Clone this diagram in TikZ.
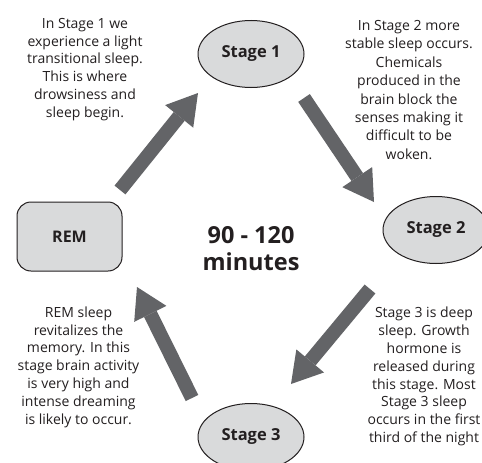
\documentclass[tikz,border=0pt]{standalone}
\usepackage{fontspec}
\setmainfont{Open Sans}
\usetikzlibrary{shapes.geometric,arrows.meta}
\definecolor{shapegray}{HTML}{D9DADB}
\definecolor{arrowgray}{HTML}{636467}
\definecolor{inkblack}{HTML}{231F20}
\begin{document}
\begin{tikzpicture}[x=1pt,y=-1pt,
  stagebox/.style={ellipse,draw=inkblack,line width=1pt,fill=shapegray,
    minimum width=106pt,minimum height=67pt,inner sep=0pt,
    font=\fontsize{16.5}{19}\selectfont\bfseries,text=inkblack},
  rembox/.style={rectangle,rounded corners=14pt,draw=inkblack,line width=1pt,
    fill=shapegray,minimum width=105pt,minimum height=69pt,inner sep=0pt,
    font=\fontsize{16}{19}\selectfont\bfseries,text=inkblack},
  note/.style={align=center,text=inkblack,inner sep=0pt,
    font=\fontsize{14}{17.8}\selectfont},
  bigtext/.style={align=center,text=inkblack,inner sep=0pt,
    font=\fontsize{23.5}{27}\selectfont\bfseries},
  flow/.style={line width=14pt,draw=arrowgray,
    -{Triangle[length=30pt,width=36pt,line width=0pt]}}]
\useasboundingbox (0,0) rectangle (482,463);
\clip (0,0) rectangle (482,463);
\fill[white] (0,0) rectangle (482,463);

\node[stagebox] (s1) at (251,54) {Stage 1};
\node[stagebox] (s2) at (436,230) {Stage 2};
\node[stagebox] (s3) at (251,437) {Stage 3};
\node[rembox] (rem) at (69.5,236.5) {REM};
\node[bigtext] (mid) at (251,249) {90 - 120\\minutes};

\node[note] (n1) at (85,69.5) {In Stage 1 we\\experience a light\\transitional sleep.\\This is where\\drowsiness and\\sleep begin.};
\node[note,font=\fontsize{14}{18.4}\selectfont] (n2) at (409,90) {In Stage 2 more\\stable sleep occurs.\\Chemicals\\produced in the\\brain block the\\senses making it\\difficult to be\\woken.};
\node[note] (n3) at (78.5,367) {REM sleep\\revitalizes the\\memory. In this\\stage brain activity\\is very high and\\intense dreaming\\is likely to occur.};
\node[note] (n4) at (424,376.5) {Stage 3 is deep\\sleep. Growth\\hormone is\\released during\\this stage. Most\\Stage 3 sleep\\occurs in the first\\third of the night};

\coordinate (a1t) at (120,190);
\coordinate (a1h) at (198,93);
\coordinate (a2t) at (304,98);
\coordinate (a2h) at (374,202);
\coordinate (a3t) at (370,289);
\coordinate (a3h) at (291,384);
\coordinate (a4t) at (192,398);
\coordinate (a4h) at (137,287);

\draw[flow] (a1t) -- (a1h);
\draw[flow] (a2t) -- (a2h);
\draw[flow] (a3t) -- (a3h);
\draw[flow] (a4t) -- (a4h);
\end{tikzpicture}
\end{document}
